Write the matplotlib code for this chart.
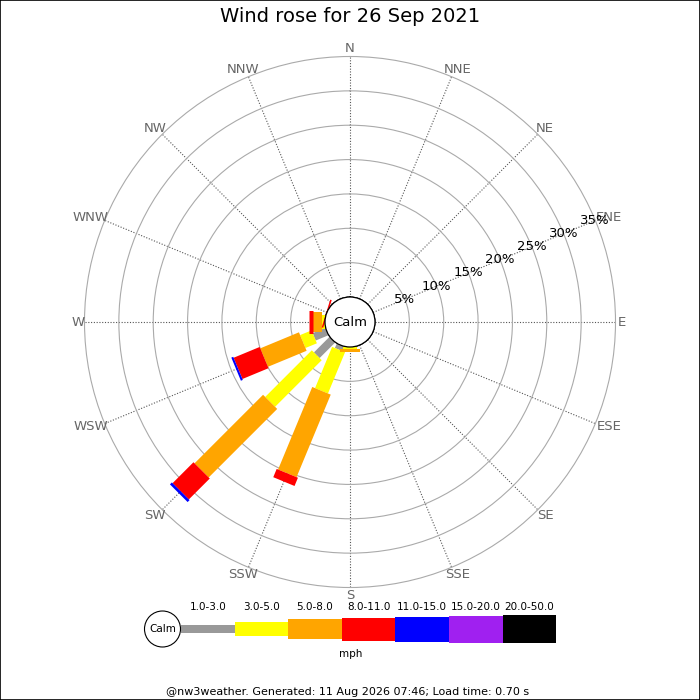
import numpy as np
import matplotlib
matplotlib.use("Agg")
import matplotlib.pyplot as plt
from matplotlib.patches import Circle, Rectangle

# ---------------------------------------------------------------- data
title = "Wind rose for 26 Sep 2021"
footer = "@nw3weather. Generated: 11 Aug 2026 07:46; Load time: 0.70 s"
directions = ['N', 'NNE', 'NE', 'ENE', 'E', 'ESE', 'SE', 'SSE',
              'S', 'SSW', 'SW', 'WSW', 'W', 'WNW', 'NW', 'NNW']
speed_bins = ['1.0-3.0', '3.0-5.0', '5.0-8.0', '8.0-11.0',
              '11.0-15.0', '15.0-20.0', '20.0-50.0']
bin_colors = ['#999999', '#ffff00', '#ffa500', '#ff0000',
              '#0000ff', '#a020f0', '#000000']
bin_px = [8, 14, 20, 23, 25, 27, 28]          # bar thickness per class (px)
ring_pct = [5, 10, 15, 20, 25, 30, 35]

# percent of time per direction (16) for each speed class
pct_1_3   = [0, 0, 0, 0, 0, 0, 0, 0, 0.0, 0.7, 3.2, 2.0, 0.0, 0, 0, 0]
pct_3_5   = [0, 0, 0, 0, 0, 0, 0, 0, 0.3, 6.5, 9.6, 1.8, 0.4, 0, 0, 0]
pct_5_8   = [0, 0, 0, 0, 0, 0, 0, 0, 0.45, 13.0, 14.1, 6.1, 1.3, 0, 0, 0]
pct_8_11  = [0, 0, 0, 0, 0, 0, 0, 0, 0.0, 1.3, 4.3, 4.1, 0.7, 0, 0, 0]
pct_11_15 = [0, 0, 0, 0, 0, 0, 0, 0, 0.0, 0.0, 0.4, 0.3, 0.0, 0, 0, 0]
pct_15_20 = [0] * 16
pct_20_50 = [0] * 16

# thin red stroke near the calm circle
stray_deg = [260, 318]
stray_pct = [0.4, 0.55]

# ---------------------------------------------------------------- layout
W = H = 700
cx, cy = 350, 322          # rose centre (px, from top-left)
R_out = 265.5              # radius of the 35% ring (px)
R_calm = 25                # calm circle radius (px)
rmax = 35
rorigin = -R_calm * rmax / (R_out - R_calm)

fig = plt.figure(figsize=(7, 7), dpi=100)
fig.patch.set_facecolor('white')

aw = 2 * R_out / W
ax = fig.add_axes([cx / W - aw / 2, 1 - cy / H - aw / 2, aw, aw], projection='polar')
ax.set_theta_zero_location('N')
ax.set_theta_direction(-1)
ax.set_ylim(0, rmax)
ax.set_rorigin(rorigin)
ax.set_axisbelow(True)

thetas = np.deg2rad(np.arange(16) * 22.5)
ax.set_xticks(thetas)
ax.set_xticklabels([])
ax.set_yticks(ring_pct[:-1])
ax.set_yticklabels([])
ax.xaxis.grid(True, color='#555555', linestyle=(0, (1, 1.5)), linewidth=0.8)
ax.yaxis.grid(True, color='#aaaaaa', linestyle='-', linewidth=0.8)
ax.spines['polar'].set_color('#aaaaaa')
ax.spines['polar'].set_linewidth(0.8)
for s in ('inner', 'start', 'end'):
    if s in ax.spines:
        ax.spines[s].set_visible(False)
ax.tick_params(length=0)

# stacked bars as thick radial strokes
classes = [pct_1_3, pct_3_5, pct_5_8, pct_8_11, pct_11_15, pct_15_20, pct_20_50]
cum = np.zeros(16)
for vals, col, px in zip(classes, bin_colors, bin_px):
    vals = np.array(vals, dtype=float)
    for d in range(16):
        if vals[d] > 0:
            ax.plot([thetas[d], thetas[d]], [cum[d], cum[d] + vals[d]],
                    color=col, linewidth=px * 0.72, solid_capstyle='butt',
                    zorder=3)
    cum += vals

ax.plot(np.deg2rad(stray_deg), stray_pct, color='#ff0000', linewidth=1.1, zorder=3)

# percentage labels along ENE
for p in ring_pct:
    ax.text(np.deg2rad(67.5), p, f"{p}%", ha='center', va='center',
            fontsize=9.5, color='black', zorder=5)

# compass labels
for d, lab in enumerate(directions):
    s, c = np.sin(thetas[d]), np.cos(thetas[d])
    half_w = 3.3 * len(lab) + 1
    half_h = 4.5
    ax.annotate(lab, xy=(thetas[d], rmax), xytext=(s * half_w, c * half_h + c * 1.5),
                textcoords='offset points', ha='center', va='center',
                fontsize=9.5, color='#666666', annotation_clip=False)

# ---------------------------------------------------------------- overlay (pixel coords)
ov = fig.add_axes([0, 0, 1, 1])
ov.set_xlim(0, W)
ov.set_ylim(H, 0)
ov.axis('off')
ov.patch.set_visible(False)

ov.add_patch(Circle((cx, cy), R_calm, facecolor='white', edgecolor='black',
                    linewidth=0.9, zorder=6))
ov.text(cx, cy, "Calm", ha='center', va='center', fontsize=9.5, zorder=7)

ov.text(W / 2, 17, title, ha='center', va='center', fontsize=14)

# legend
leg_x0, leg_y, seg = 181, 629, 53.6
centers = leg_x0 + seg / 2 + seg * np.arange(len(speed_bins))
heights = np.array(bin_px)
ov.bar(centers, heights, width=seg, bottom=leg_y - heights / 2,
       color=bin_colors, linewidth=0)
for xc, lab in zip(centers, speed_bins):
    ov.text(xc, 607, lab, ha='center', va='center', fontsize=7.5)
ov.add_patch(Circle((162.5, leg_y), 18, facecolor='white', edgecolor='black', linewidth=0.8))
ov.text(162.5, leg_y, "Calm", ha='center', va='center', fontsize=7.5)
ov.text(351, 654, "mph", ha='center', va='center', fontsize=7.5)

ov.text(348, 692, footer, ha='center', va='center', fontsize=8)

fig.add_artist(Rectangle((0.0007, 0.0007), 0.9986, 0.9986, transform=fig.transFigure,
                         fill=False, edgecolor='black', linewidth=1.2))

fig.savefig("out.png", dpi=100)
